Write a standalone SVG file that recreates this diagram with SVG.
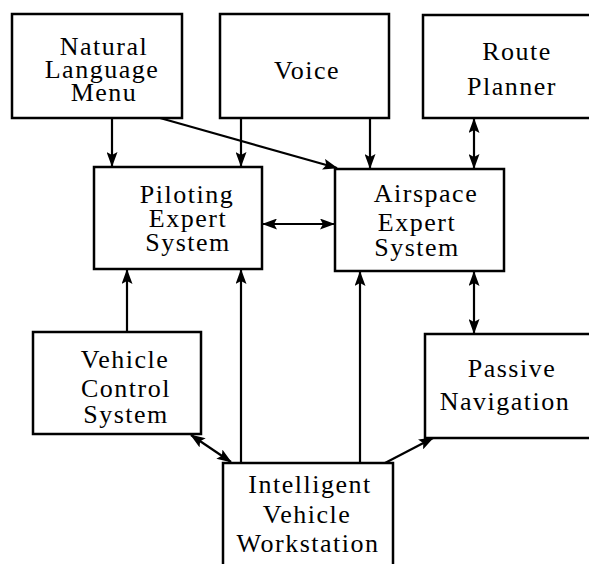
<svg xmlns="http://www.w3.org/2000/svg" width="589" height="564" viewBox="0 0 589 564">
<style>
.box{fill:#fff;stroke:#000;stroke-width:2.5}
.lbl{font-family:"Liberation Serif","Times New Roman",serif;font-size:26px;letter-spacing:1.5px;text-anchor:middle;fill:#000}
.c{stroke:#000;stroke-width:2.2;fill:none}
</style>
<defs>
<marker id="ah" markerUnits="userSpaceOnUse" markerWidth="15" markerHeight="11" refX="14" refY="5.5" orient="auto-start-reverse" viewBox="0 0 15 11">
<path d="M0,0 L15,5.5 L0,11 L3,5.5 Z" fill="#000"/>
</marker>
</defs>
<rect width="589" height="564" fill="#fff"/>
<g id="connectors">
<line class="c" x1="112" y1="118" x2="112" y2="166" marker-end="url(#ah)"/>
<line class="c" x1="241" y1="118" x2="241" y2="166" marker-end="url(#ah)"/>
<line class="c" x1="160" y1="118" x2="337" y2="168" marker-end="url(#ah)"/>
<line class="c" x1="370" y1="118" x2="370" y2="168" marker-end="url(#ah)"/>
<line class="c" x1="474" y1="119" x2="474" y2="168" marker-start="url(#ah)" marker-end="url(#ah)"/>
<line class="c" x1="263" y1="224" x2="334" y2="224" marker-start="url(#ah)" marker-end="url(#ah)"/>
<line class="c" x1="127" y1="332" x2="127" y2="270" marker-end="url(#ah)"/>
<line class="c" x1="241" y1="463" x2="241" y2="270" marker-end="url(#ah)"/>
<line class="c" x1="360" y1="463" x2="360" y2="272" marker-end="url(#ah)"/>
<line class="c" x1="474" y1="272" x2="474" y2="333" marker-start="url(#ah)" marker-end="url(#ah)"/>
<line class="c" x1="191" y1="435" x2="231" y2="462" marker-start="url(#ah)" marker-end="url(#ah)"/>
<line class="c" x1="385" y1="463" x2="433" y2="438" marker-end="url(#ah)"/>
</g>
<g id="natural-language-menu">
<rect class="box" x="12" y="14" width="170" height="104"/>
<text class="lbl" x="104" y="55">Natural</text>
<text class="lbl" x="102" y="78">Language</text>
<text class="lbl" x="104" y="101">Menu</text>
</g>
<g id="voice">
<rect class="box" x="220" y="14" width="169" height="104"/>
<text class="lbl" x="307" y="79">Voice</text>
</g>
<g id="route-planner">
<rect class="box" x="423" y="15" width="175" height="103"/>
<text class="lbl" x="517" y="60">Route</text>
<text class="lbl" x="512" y="95">Planner</text>
</g>
<g id="piloting-expert-system">
<rect class="box" x="94" y="167" width="168" height="102"/>
<text class="lbl" x="187" y="203">Piloting</text>
<text class="lbl" x="188" y="227">Expert</text>
<text class="lbl" x="188" y="251">System</text>
</g>
<g id="airspace-expert-system">
<rect class="box" x="335" y="169" width="169" height="102"/>
<text class="lbl" x="426" y="202">Airspace</text>
<text class="lbl" x="417" y="231">Expert</text>
<text class="lbl" x="417" y="256">System</text>
</g>
<g id="vehicle-control-system">
<rect class="box" x="33" y="332" width="168" height="102"/>
<text class="lbl" x="125" y="368">Vehicle</text>
<text class="lbl" x="126" y="397">Control</text>
<text class="lbl" x="126" y="423">System</text>
</g>
<g id="passive-navigation">
<rect class="box" x="425" y="334" width="175" height="104"/>
<text class="lbl" x="512" y="377">Passive</text>
<text class="lbl" x="505" y="410">Navigation</text>
</g>
<g id="intelligent-vehicle-workstation">
<rect class="box" x="223" y="463" width="170" height="110"/>
<text class="lbl" x="310" y="493">Intelligent</text>
<text class="lbl" x="307" y="523">Vehicle</text>
<text class="lbl" x="308" y="552">Workstation</text>
</g>
</svg>
